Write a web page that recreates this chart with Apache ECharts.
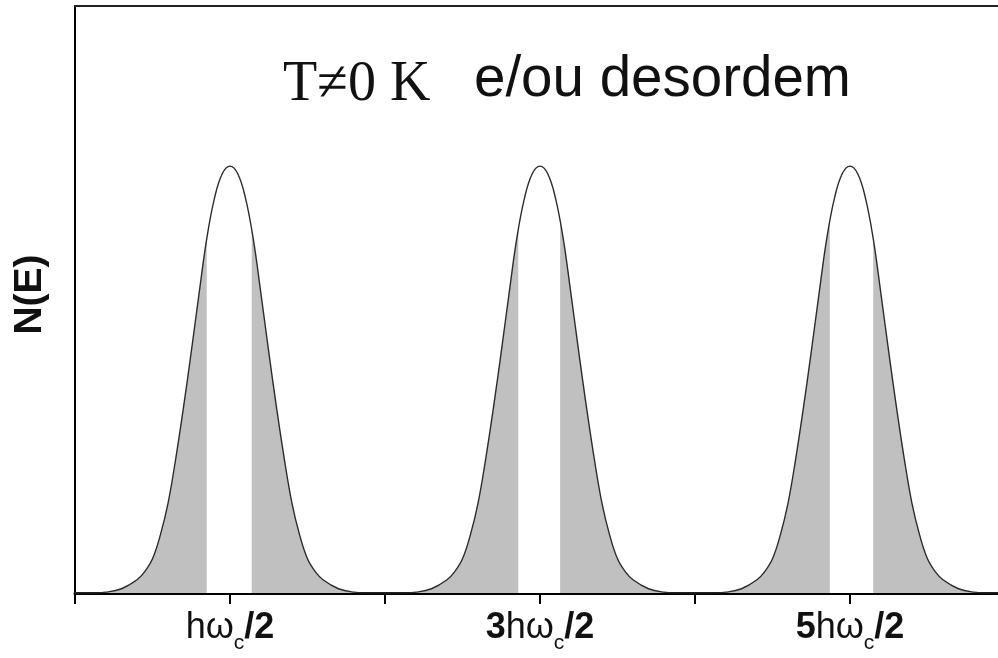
<!DOCTYPE html>
<html>
<head>
<meta charset="utf-8">
<style>
  html, body { margin: 0; padding: 0; background: #ffffff; }
  #chart { width: 998px; height: 658px; }
</style>
<script src="https://cdn.jsdelivr.net/npm/echarts@6/dist/echarts.min.js"></script>
</head>
<body>
<div id="chart"></div>
<script>
// Landau levels broadened by temperature and/or disorder.
// Energy axis in units of ħω_c/2; levels at 1, 3 and 5.
const levelCenters = [1, 3, 5];

// Shape of one broadened level: offset from its centre (ħω_c/2 units) and N(E) relative to the peak
const profileOffset = [-1.0, -0.9, -0.8, -0.7, -0.6, -0.55, -0.5, -0.45, -0.4, -0.35, -0.3, -0.25, -0.2, -0.15, -0.1, -0.05, 0,
                        0.05, 0.1, 0.15, 0.2, 0.25, 0.3, 0.35, 0.4, 0.45, 0.5, 0.55, 0.6, 0.7, 0.8, 0.9, 1.0];
const profileHeight = [0.0, 0.0, 0.002, 0.01, 0.031, 0.05, 0.08, 0.135, 0.21, 0.315, 0.435, 0.565, 0.70, 0.83, 0.925, 0.982, 1.0,
                       0.982, 0.925, 0.83, 0.70, 0.565, 0.435, 0.315, 0.21, 0.135, 0.08, 0.05, 0.031, 0.01, 0.002, 0.0, 0.0];

// Unshaded (white) energy windows inside each level: [from, to]
const whiteBands = [[0.85, 1.14], [2.86, 3.13], [4.87, 5.15]];
const bandTop = 1;

// Axis range and tick labels
const energyMin = 0;
const energyMax = 5.955;
const nMax = 1.375;
const tickLabels = {
  1: '{n|hω}{c|c}{b|/2}',
  3: '{b|3}{n|hω}{c|c}{b|/2}',
  5: '{b|5}{n|hω}{c|c}{b|/2}'
};

// Build the continuous N(E) curve across all levels
const curve = [[energyMin, 0]];
levelCenters.forEach(c => {
  profileOffset.forEach((d, i) => curve.push([c + d, profileHeight[i]]));
});
curve.push([energyMax, 0]);

// One white filled block per unshaded window
const bandSeries = whiteBands.map(([from, to]) => ({
  type: 'line',
  z: 3,
  data: [[from, bandTop], [to, bandTop]],
  symbol: 'none',
  lineStyle: { width: 0 },
  areaStyle: { color: '#ffffff', opacity: 1 },
  silent: true
}));

const chart = echarts.init(document.getElementById('chart'), null, { renderer: 'canvas' });

chart.setOption({
  animation: false,
  backgroundColor: '#ffffff',
  title: [
    {
      text: 'T≠0 K',
      left: 283, top: 57, padding: 0,
      textStyle: { fontFamily: 'Liberation Serif', fontSize: 56, fontWeight: 'normal', color: '#111111' }
    },
    {
      text: 'e/ou desordem',
      left: 474, top: 52, padding: 0,
      textStyle: { fontFamily: 'Liberation Sans', fontSize: 56.5, fontWeight: 'normal', color: '#111111' }
    }
  ],
  grid: { left: 75, right: 0, top: 6, bottom: 65, outerBoundsMode: 'none', containLabel: false },
  xAxis: [
    {
      type: 'value',
      min: energyMin, max: energyMax, interval: 1,
      splitLine: { show: false },
      axisLine: { show: true, onZero: false, lineStyle: { color: '#000000', width: 3 } },
      axisTick: { show: true, length: 11, lineStyle: { color: '#000000', width: 2 } },
      axisLabel: {
        show: true, margin: 10,
        showMinLabel: true, showMaxLabel: false,
        formatter: v => tickLabels[v] || '',
        rich: {
          n: { fontFamily: 'Liberation Sans', fontSize: 36, color: '#111111' },
          b: { fontFamily: 'Liberation Sans', fontSize: 36, fontWeight: 'bold', color: '#111111' },
          c: { fontFamily: 'Liberation Sans', fontSize: 21, color: '#111111', padding: [30, 0, 0, 0] }
        }
      }
    },
    {
      type: 'value', position: 'top',
      min: energyMin, max: energyMax,
      splitLine: { show: false },
      axisLine: { show: true, onZero: false, lineStyle: { color: '#222222', width: 2 } },
      axisTick: { show: false },
      axisLabel: { show: false }
    }
  ],
  yAxis: {
    type: 'value',
    min: 0, max: nMax,
    name: 'N(E)',
    nameLocation: 'middle',
    nameRotate: 90,
    nameGap: 25,
    nameTextStyle: { fontFamily: 'Liberation Sans', fontSize: 39, fontWeight: 'bold', color: '#111111', padding: [0, 0, 0, 10] },
    splitLine: { show: false },
    axisLine: { show: true, lineStyle: { color: '#000000', width: 2 } },
    axisTick: { show: false },
    axisLabel: { show: false }
  },
  series: [
    {
      // grey filled density of states
      type: 'line',
      z: 2,
      data: curve,
      smooth: 0.4,
      symbol: 'none',
      lineStyle: { width: 0 },
      areaStyle: { color: '#c0c0c0', opacity: 1 },
      silent: true
    },
    ...bandSeries,
    {
      // outline of N(E)
      type: 'line',
      z: 4,
      data: curve,
      smooth: 0.4,
      symbol: 'none',
      lineStyle: { color: '#2b2b2b', width: 1.4 },
      silent: true
    }
  ]
});
</script>
</body>
</html>
